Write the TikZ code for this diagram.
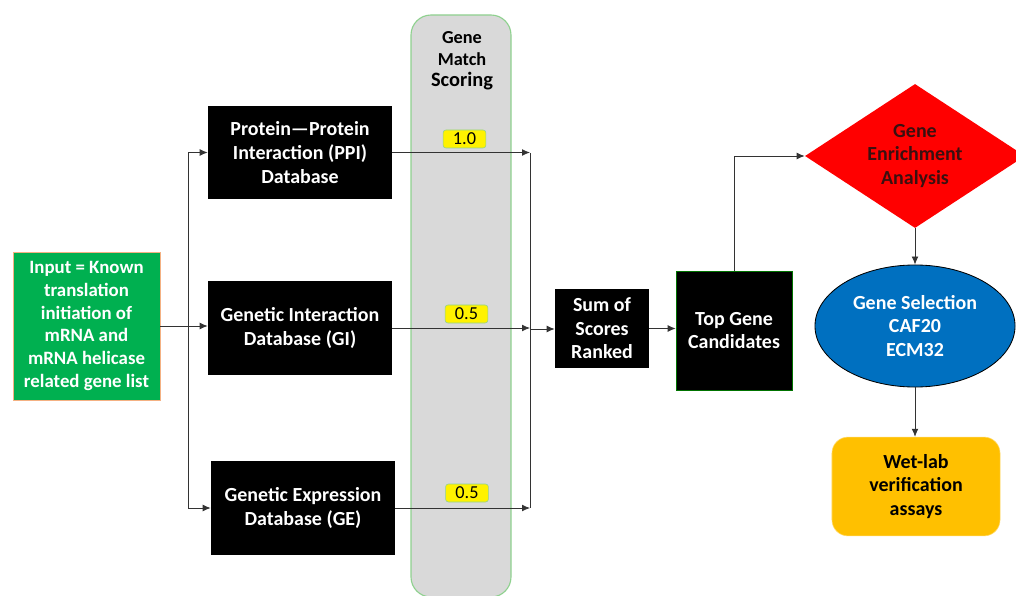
\documentclass[tikz,border=0pt]{standalone}
\usepackage{fontspec}
\setmainfont{Carlito}
\usetikzlibrary{arrows.meta, positioning, shapes.geometric}
\definecolor{inputgreen}{HTML}{00B050}
\definecolor{inputedge}{HTML}{F4B183}
\definecolor{colgray}{HTML}{D9D9D9}
\definecolor{coledge}{HTML}{8FD18F}
\definecolor{selblue}{HTML}{0070C0}
\definecolor{laborange}{HTML}{FFC000}
\definecolor{labedge}{HTML}{FFD966}
\definecolor{enrichtext}{HTML}{3A1010}

\begin{document}
\begin{tikzpicture}[
        x=0.025cm, y=-0.025cm,
        >={Latex[length=2mm, width=1.7mm]},
        txt/.style={font=\fontsize{14.2}{16.8}\selectfont\bfseries, align=center, inner sep=0pt},
        dbbox/.style={txt, fill=black, text=white, minimum width=4.6cm, minimum height=2.33cm},
        scorebox/.style={draw=coledge, fill=yellow, rounded corners=2pt, minimum width=1.07cm, minimum height=0.45cm, inner sep=0pt, font=\fontsize{13}{14}\selectfont},
        link/.style={draw=black!80, line width=0.6pt}
    ]
    \useasboundingbox (0,0) rectangle (1016,596);

    % --- Scoring column ---
    \path[fill=colgray, draw=coledge, line width=0.8pt, rounded corners=0.5cm] (411,15) rectangle (511,597);
    \node[font=\fontsize{13}{15.4}\selectfont\bfseries, align=center, inner sep=0pt] (scorehead) at (462,61)
        {Gene\\Match\\{\fontsize{14.5}{15.4}\selectfont Scoring}};

    % --- Input ---
    \node[txt, fill=inputgreen, draw=inputedge, text=white, minimum width=3.67cm, minimum height=3.7cm,
          font=\fontsize{13.4}{16.1}\selectfont\bfseries] (input) at (86.5,326)
        {Input = Known\\translation\\initiation of\\mRNA and\\mRNA helicase\\related gene list};

    % --- Databases ---
    \node[dbbox] (ppi) at (300,152.5) {Protein---Protein\\Interaction (PPI)\\Database};
    \node[dbbox] (gi) at (300,328) {Genetic Interaction\\Database (GI)};
    \node[dbbox] (ge) at (303,508) {Genetic Expression\\Database (GE)};

    % --- Scores ---
    \node[scorebox] (ppiscore) at (464.5,139) {1.0};
    \node[scorebox] (giscore) at (466.5,314) {0.5};
    \node[scorebox] (gescore) at (467,493) {0.5};

    % --- Ranking and selection ---
    \node[txt, fill=black, text=white, minimum width=2.35cm, minimum height=1.97cm] (sum) at (602,328.5) {Sum of\\Scores\\Ranked};
    \node[txt, fill=black, draw=green!45!black, text=white, minimum width=2.9cm, minimum height=2.97cm] (top) at (734,330.5) {Top Gene\\Candidates};
    \node[txt, diamond, aspect=1.5, fill=red, text=enrichtext, minimum width=5.5cm, minimum height=3.6cm] (enrich) at (915,156) {Gene\\Enrichment\\Analysis};
    \node[txt, ellipse, fill=selblue, draw=black, line width=0.6pt, text=white, minimum width=5cm, minimum height=3.05cm] (select) at (915,326) {Gene Selection\\CAF20\\ECM32};
    \node[txt, fill=laborange, draw=labedge, rounded corners=0.4cm, minimum width=4.2cm, minimum height=2.47cm] (wetlab) at (916,486.5) {Wet-lab\\verification\\assays};

    % --- Connectors ---
    \coordinate (split) at (188,326);
    \coordinate (jtop) at (530,153);
    \coordinate (jmid) at (530,329);
    \coordinate (jbot) at (530,508);
    \draw[link, ->] (input.east) -- (input.east -| gi.west);
    \draw[link, ->] (split) |- (ppi.west);
    \draw[link, ->] (split) |- (ge.west);
    \draw[link, ->] (ppi.east) -- (ppi.east -| jtop);
    \draw[link, ->] (gi.east) -- (gi.east -| jmid);
    \draw[link, ->] (ge.east) -- (ge.east -| jbot);
    \draw[link] (jtop) -- (jbot);
    \draw[link, ->] (jmid) -- (sum.west |- jmid);
    \draw[link, ->] (sum.east) -- (sum.east -| top.west);
    \draw[link, ->] (top.north) |- (enrich.west);
    \draw[link, ->] (enrich.south) -- (select.north);
    \draw[link, ->] (select.south) -- (select.south |- wetlab.north);
\end{tikzpicture}
\end{document}
